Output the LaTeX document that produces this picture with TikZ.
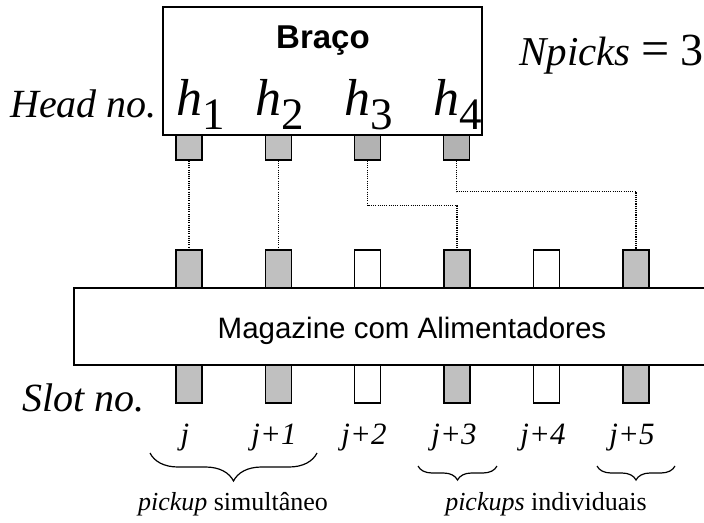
\documentclass[tikz,border=0pt]{standalone}
\usepackage{fontspec}
\setmainfont{Liberation Serif}
\newfontfamily\arialfont{Liberation Sans}
\usetikzlibrary{decorations.pathreplacing}

\newcommand\fsz[1]{\fontsize{#1}{#1}\selectfont}
\newcommand\headlbl[1]{{\fsz{52}\itshape h}\raisebox{-14pt}{\fsz{45}#1}}

\definecolor{slotgray}{RGB}{192,192,192}
\definecolor{headgrayB}{RGB}{178,178,178}

\begin{document}
\begin{tikzpicture}[x=1pt,y=-1pt,
  outline/.style={draw=black, line width=1.4pt},
  headbox/.style={outline, minimum width=26pt, minimum height=25pt, inner sep=0pt},
  slotbox/.style={outline, minimum width=26pt, minimum height=38pt, inner sep=0pt},
  link/.style={line width=1.1pt, dash pattern=on 1.1pt off 1.1pt},
  sidelbl/.style={inner sep=0pt, anchor=base west, font=\fsz{40}\itshape},
  slotlbl/.style={inner sep=0pt, anchor=base, font=\fsz{31}\itshape},
  notelbl/.style={inner sep=0pt, anchor=base, font=\fsz{26}},
  curly/.style={decorate, line width=1.2pt,
    decoration={brace, mirror, amplitude=#1}}
]
\useasboundingbox (0,0) rectangle (704,522);
\clip (0,0) rectangle (704,522);

% feeder slots above and below the magazine
\foreach \i/\x/\c in {0/189/slotgray, 1/278.5/slotgray, 2/367.5/white,
                      3/457/slotgray, 4/546.5/white, 5/636/slotgray} {
  \node[slotbox, fill=\c] (st\i) at (\x,269) {};
  \node[slotbox, fill=\c] (sb\i) at (\x,384) {};
}

% magazine (runs off the right edge)
\node[outline, fill=white, minimum width=646pt, minimum height=77pt,
      inner sep=0pt] (mag) at (397,326.5) {};
\node[inner sep=0pt, anchor=base, font=\arialfont\fsz{29.5}] (magtxt)
  at (412,338) {Magazine com Alimentadores};

% pick-and-place arm with its nozzles
\node[headbox, fill=slotgray]  (hd1) at (189,147.5) {};
\node[headbox, fill=slotgray]  (hd2) at (278.5,147.5) {};
\node[headbox, fill=headgrayB] (hd3) at (367.5,147.5) {};
\node[headbox, fill=headgrayB] (hd4) at (456.5,147.5) {};
\node[outline, fill=white, minimum width=319pt, minimum height=128pt,
      inner sep=0pt] (arm) at (322.5,71) {};
\node[inner sep=0pt, anchor=base, font=\arialfont\bfseries\fsz{33}] (armtxt)
  at (323,48) {Braço};
\node[inner sep=0pt, anchor=base west] (h1) at (176,115) {\headlbl{1}};
\node[inner sep=0pt, anchor=base west] (h2) at (255,115) {\headlbl{2}};
\node[inner sep=0pt, anchor=base west] (h3) at (344,115) {\headlbl{3}};
\node[inner sep=0pt, anchor=base west] (h4) at (433,115) {\headlbl{4}};

% nozzle-to-slot assignment
\draw[link] (hd1.south) -- (st0.north);
\draw[link] (hd2.south) -- (st1.north);
\draw[link] (hd3.south) -- ++(0,45) -| (st3.north);
\draw[link] (hd4.south) -- ++(0,31) -| (st5.north);

% side labels
\node[sidelbl] (headno) at (10,117) {Head no.};
\node[sidelbl] (slotno) at (22,411) {Slot no.};
\node[inner sep=0pt, anchor=base west, font=\fsz{41}] (npicks) at (519,65)
  {\textit{Npicks}\kern 11pt{\fsz{50}=}\kern 11pt{\fsz{46}3}};

% slot indices
\node[slotlbl] (l0) at (185,444) {j};
\node[slotlbl] (l1) at (274,444) {j+1};
\node[slotlbl] (l2) at (364,444) {j+2};
\node[slotlbl] (l3) at (454,444) {j+3};
\node[slotlbl] (l4) at (543,444) {j+4};
\node[slotlbl] (l5) at (632,444) {j+5};

% pickup groupings
\coordinate (b1a) at (150,453);
\coordinate (b1b) at (317,453);
\coordinate (b2a) at (418,466);
\coordinate (b2b) at (497,466);
\coordinate (b3a) at (597,466);
\coordinate (b3b) at (675,466);
\draw[curly=28pt] (b1a) -- (b1b);
\draw[curly=14pt] (b2a) -- (b2b);
\draw[curly=14pt] (b3a) -- (b3b);
\node[notelbl] (simul) at (233,510) {\textit{pickup} simultâneo};
\node[notelbl] (indiv) at (546,510) {\textit{pickups} individuais};
\end{tikzpicture}
\end{document}
